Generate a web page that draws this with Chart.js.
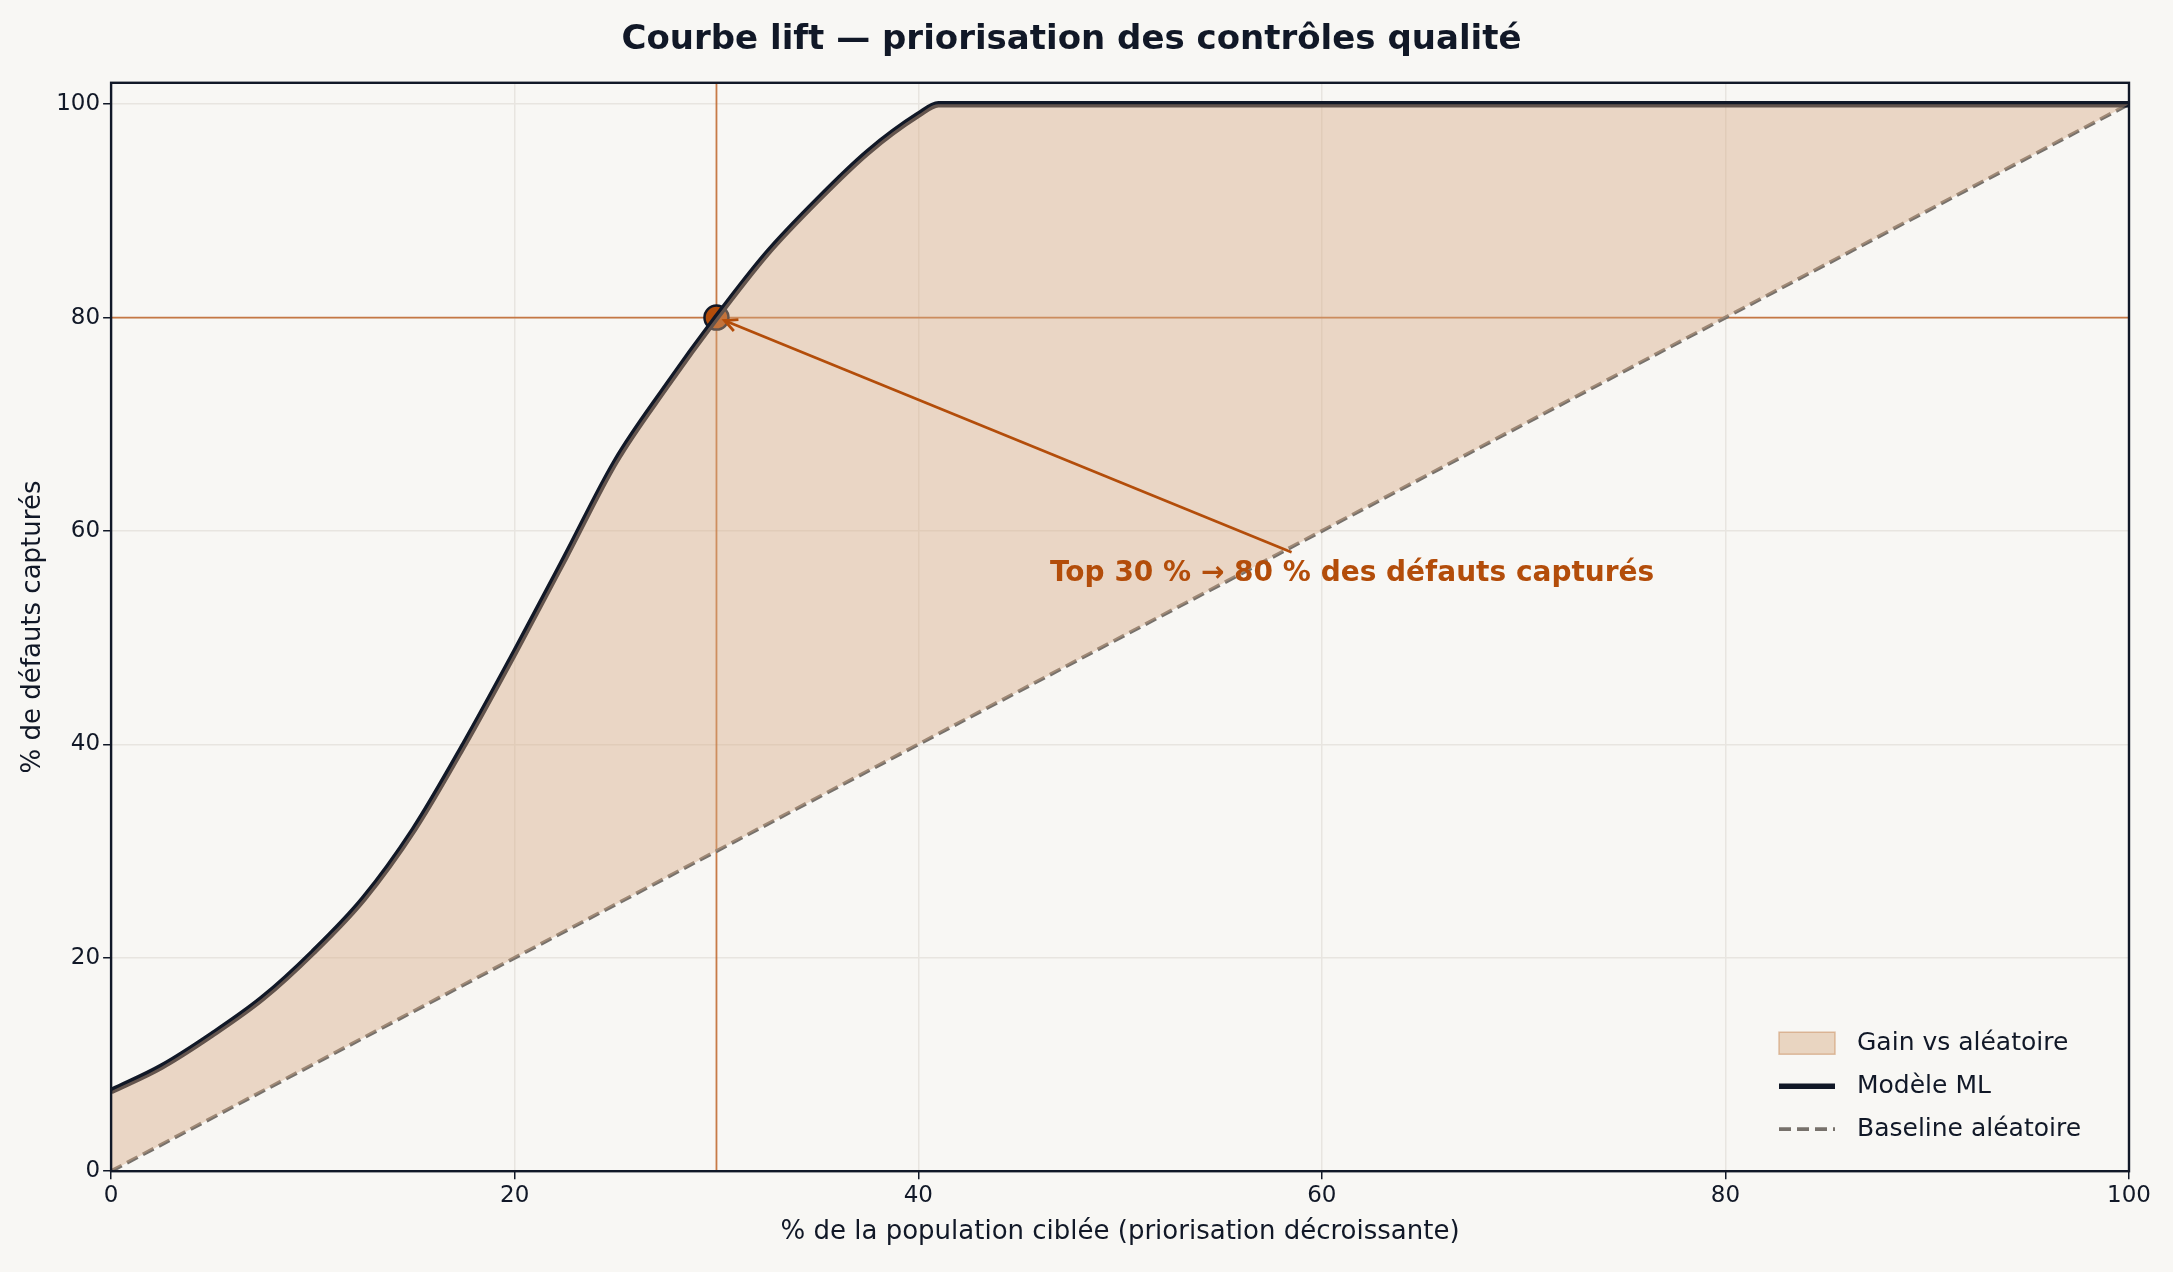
<!DOCTYPE html>
<html><head><meta charset="utf-8">
<script src="https://cdn.jsdelivr.net/npm/chart.js@4.4.1/dist/chart.umd.min.js"></script>
<style>
html,body{margin:0;background:#f8f7f4;}
#wrap{width:2173px;height:1272px;}
</style></head>
<body><div id="wrap"><canvas id="lift"></canvas></div>
<script>
var popPct = [0, 2.5, 5, 7.5, 10, 12.5, 15, 17.5, 20, 22.5, 25, 27.5, 30, 32.5, 35, 37.5, 40, 41, 50, 60, 70, 80, 90, 100];
var modelPct = [7.5, 9.8, 12.8, 16.2, 20.5, 25.5, 32, 40, 48.6, 57.5, 66.5, 73.5, 80, 86, 91, 95.5, 99, 100, 100, 100, 100, 100, 100, 100];
var basePop = [0, 100];
var basePct = [0, 100];
var focusX = 30, focusY = 80;
var noteText = 'Top 30 % \u2192 80 % des d\u00e9fauts captur\u00e9s';

var modelPts = popPct.map(function(x, i) { return {x: x, y: modelPct[i]}; });
var basePts = basePop.map(function(x, i) { return {x: x, y: basePct[i]}; });
var FONT = 'DejaVu Sans';
var ORANGE = '#b34d0a';

var extras = {
  id: 'extras',
  beforeDatasetsDraw: function(chart) {
    var c = chart.ctx, a = chart.chartArea, xs = chart.scales.x, ys = chart.scales.y;
    var px = xs.getPixelForValue(focusX), py = ys.getPixelForValue(focusY);
    c.save();
    c.strokeStyle = 'rgba(190,100,40,0.85)';
    c.lineWidth = 1.8;
    c.beginPath();
    c.moveTo(px, a.top); c.lineTo(px, a.bottom);
    c.moveTo(a.left, py); c.lineTo(a.right, py);
    c.stroke();
    c.restore();
  },
  afterDraw: function(chart) {
    var c = chart.ctx, a = chart.chartArea, xs = chart.scales.x, ys = chart.scales.y;
    var px = xs.getPixelForValue(focusX), py = ys.getPixelForValue(focusY);
    c.save();
    // arrow
    var tx = xs.getPixelForValue(58.5), ty = ys.getPixelForValue(58);
    c.strokeStyle = ORANGE; c.lineWidth = 2.8;
    c.beginPath(); c.moveTo(tx, ty); c.lineTo(px + 8, py + 3); c.stroke();
    var ang = Math.atan2(py - ty, px - tx);
    c.beginPath();
    c.moveTo(px + 8 - 14 * Math.cos(ang - 0.45), py + 3 - 14 * Math.sin(ang - 0.45));
    c.lineTo(px + 8, py + 3);
    c.lineTo(px + 8 - 14 * Math.cos(ang + 0.45), py + 3 - 14 * Math.sin(ang + 0.45));
    c.stroke();
    c.fillStyle = ORANGE;
    c.font = 'bold 28px ' + FONT;
    c.textAlign = 'center'; c.textBaseline = 'middle';
    c.fillText(noteText, xs.getPixelForValue(61.5), ys.getPixelForValue(56));
    // frame
    c.strokeStyle = '#111827'; c.lineWidth = 2.4;
    c.strokeRect(a.left, a.top, a.right - a.left, a.bottom - a.top);
    // legend
    var lx = a.right - 350, ly = a.bottom - 128;
    c.font = '25px ' + FONT; c.textAlign = 'left';
    c.fillStyle = 'rgba(214,170,130,0.45)'; c.strokeStyle = 'rgba(200,140,90,0.5)'; c.lineWidth = 1.5;
    c.fillRect(lx, ly - 11, 56, 22); c.strokeRect(lx, ly - 11, 56, 22);
    c.fillStyle = '#111827'; c.fillText('Gain vs al\u00e9atoire', lx + 78, ly);
    c.strokeStyle = '#111827'; c.lineWidth = 5.5;
    c.beginPath(); c.moveTo(lx, ly + 43); c.lineTo(lx + 56, ly + 43); c.stroke();
    c.fillText('Mod\u00e8le ML', lx + 78, ly + 43);
    c.strokeStyle = '#77716b'; c.lineWidth = 3.8; c.setLineDash([12, 6]);
    c.beginPath(); c.moveTo(lx, ly + 86); c.lineTo(lx + 56, ly + 86); c.stroke();
    c.setLineDash([]);
    c.fillText('Baseline al\u00e9atoire', lx + 78, ly + 86);
    c.restore();
  }
};

new Chart(document.getElementById('lift'), {
  type: 'scatter',
  data: {
    datasets: [
      { label: 'Gain vs al\u00e9atoire', data: modelPts, showLine: true, borderWidth: 0, pointRadius: 0,
        fill: '+2', backgroundColor: 'rgba(214,170,130,0.42)', cubicInterpolationMode: 'monotone' },
      { label: 'Mod\u00e8le ML', data: modelPts, showLine: true, borderColor: '#111827', borderWidth: 6.5,
        pointRadius: 0, fill: false, cubicInterpolationMode: 'monotone' },
      { label: 'Baseline al\u00e9atoire', data: basePts, showLine: true, borderColor: '#77716b', borderWidth: 3.8,
        borderDash: [12, 6], pointRadius: 0, fill: false },
      { label: 'focus', data: [{x: focusX, y: focusY}], pointRadius: 12, pointBackgroundColor: ORANGE,
        pointBorderColor: '#111827', pointBorderWidth: 2.5 }
    ]
  },
  options: {
    responsive: true, maintainAspectRatio: false, animation: false,
    layout: { padding: { left: 14, right: 44, top: 8, bottom: 20 } },
    plugins: {
      legend: { display: false },
      tooltip: { enabled: false },
      title: { display: true, text: 'Courbe lift \u2014 priorisation des contr\u00f4les qualit\u00e9',
        color: '#111827', font: { family: FONT, size: 34, weight: 'bold' }, padding: { top: 12, bottom: 22 } }
    },
    scales: {
      x: { type: 'linear', min: 0, max: 100,
        ticks: { stepSize: 20, color: '#111827', font: { family: FONT, size: 23 } },
        grid: { color: '#e8e5e0', lineWidth: 1.5, tickColor: '#111827', tickLength: 8 },
        border: { display: false },
        title: { display: true, text: '% de la population cibl\u00e9e (priorisation d\u00e9croissante)',
          color: '#111827', font: { family: FONT, size: 26 } } },
      y: { min: 0, max: 102,
        ticks: { stepSize: 20, color: '#111827', font: { family: FONT, size: 23 },
          callback: function(v) { return v % 20 === 0 ? v : ''; } },
        afterBuildTicks: function(s) { s.ticks = [0, 20, 40, 60, 80, 100].map(function(v) { return {value: v}; }); },
        grid: { color: '#e8e5e0', lineWidth: 1.5, tickColor: '#111827', tickLength: 8 },
        border: { display: false },
        title: { display: true, text: '% de d\u00e9fauts captur\u00e9s', color: '#111827', font: { family: FONT, size: 26 } } }
    }
  },
  plugins: [extras]
});
</script></body></html>
